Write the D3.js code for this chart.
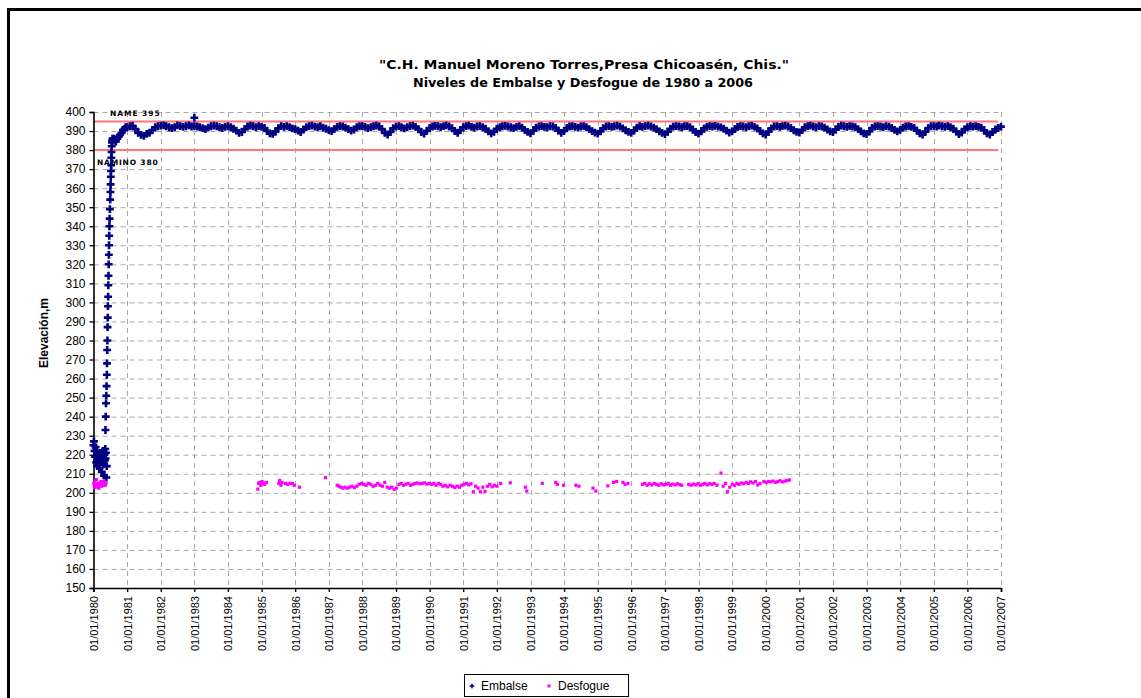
<!DOCTYPE html>
<html><head><meta charset="utf-8">
<script src="https://cdn.jsdelivr.net/npm/d3@7"></script>
<style>
html,body{margin:0;padding:0;background:#fff;}
svg{display:block;font-family:"Liberation Sans",Arial,sans-serif;}
</style></head>
<body><svg id="c" width="1141" height="698"></svg>
<script>
// ---------------- DATA ----------------
const titleLines = ['"C.H. Manuel Moreno Torres,Presa Chicoasén, Chis."', 'Niveles de Embalse y Desfogue de 1980 a 2006'];
const yLabel = "Elevación,m";
const yTicks = [150,160,170,180,190,200,210,220,230,240,250,260,270,280,290,300,310,320,330,340,350,360,370,380,390,400];
const xYears = [1980,1981,1982,1983,1984,1985,1986,1987,1988,1989,1990,1991,1992,1993,1994,1995,1996,1997,1998,1999,2000,2001,2002,2003,2004,2005,2006,2007];
const seriesNames = ["Embalse","Desfogue"];
const refLevels = [ {label:"NAME 395", value:395}, {label:"NAMINO 380", value:380} ];

// Embalse: filling period 1980 (date, elevation)
const embalseFilling = [
 ["1980-01-01",225],["1980-01-06",227],["1980-01-12",222],["1980-01-18",219],["1980-01-24",224],
 ["1980-01-30",216],["1980-02-05",222],["1980-02-11",214],["1980-02-17",218],["1980-02-23",220],
 ["1980-03-01",217],["1980-03-07",213],["1980-03-13",221],["1980-03-19",216],["1980-03-25",219],
 ["1980-03-31",211],["1980-04-06",218],["1980-04-12",222],["1980-04-18",215],["1980-04-24",209],
 ["1980-04-30",220],["1980-05-04",217],["1980-05-08",223],["1980-05-12",218],["1980-05-16",221],
 ["1980-05-20",208],["1980-05-24",214],
 ["1980-05-10",233],["1980-05-13",240],["1980-05-16",247],["1980-05-19",251],["1980-05-22",256],
 ["1980-05-25",262],["1980-05-27",268],["1980-05-29",275],["1980-05-31",280],["1980-06-02",287],
 ["1980-06-04",292],["1980-06-06",298],["1980-06-08",303],["1980-06-10",309],["1980-06-12",314],
 ["1980-06-14",320],["1980-06-16",325],["1980-06-18",330],["1980-06-20",335],["1980-06-22",340],
 ["1980-06-24",344],["1980-06-27",349],["1980-06-30",354],["1980-07-03",358],["1980-07-05",362],
 ["1980-07-07",366],["1980-07-09",369],["1980-07-11",372],["1980-07-13",376],["1980-07-15",379],
 ["1980-07-17",382],["1980-07-19",384],["1980-07-22",385],["1980-07-26",386],["1980-08-01",385.5],
 ["1980-08-10",386],["1980-08-20",385],["1980-09-01",384.5],["1980-09-15",386],["1980-10-01",387],
 ["1980-10-15",388],["1980-11-01",389],["1980-11-15",390.5],["1980-12-01",391],["1980-12-15",392],
 ["1983-01-01",397]
];
// Embalse monthly (1st of each month), Jan 1981 .. Jan 2007
const embalseMonthly = [
 392.0,392.5,392.8,391.0,389.0,388.0,387.5,388.5,389.0,390.5,392.0,392.5, // 1981
 392.8,393.0,392.5,392.0,391.5,392.0,393.0,392.6,392.2,392.5,393.0,392.4, // 1982
 392.6,392.4,392.0,391.5,391.0,391.8,392.5,392.8,392.5,392.0,391.6,392.2, // 1983
 392.5,392.0,391.2,390.2,389.0,389.5,391.0,392.4,392.8,392.5,392.0,392.6, // 1984
 392.2,391.6,390.0,388.8,388.5,389.6,391.5,392.6,392.2,392.6,392.0,391.4, // 1985
 391.0,390.2,389.5,390.8,392.0,392.6,392.8,392.3,392.0,392.5,391.8,391.2, // 1986
 390.5,390.0,391.0,392.2,392.6,392.4,391.8,391.0,390.2,390.8,392.0,392.5, // 1987
 392.6,392.2,391.5,392.0,392.5,392.8,392.4,391.0,389.0,388.2,389.5,391.5, // 1988
 392.3,392.6,392.0,391.4,392.0,392.6,392.8,392.2,391.0,389.5,388.6,390.0, // 1989
 391.6,392.4,392.7,392.5,392.0,392.6,393.0,392.4,391.5,390.0,389.0,390.5, // 1990
 392.0,392.6,392.8,392.2,391.8,392.4,392.6,392.0,391.2,389.8,388.8,389.6, // 1991
 391.2,392.0,392.5,392.7,392.4,392.0,391.5,392.2,392.6,391.8,390.5,389.6, // 1992
 388.8,390.2,391.8,392.4,392.6,392.2,392.0,392.5,392.4,391.6,390.2,389.0, // 1993
 390.0,391.6,392.4,392.6,392.2,391.8,392.4,392.6,392.0,391.0,390.0,389.2, // 1994
 388.6,389.8,391.5,392.4,392.6,392.2,392.5,392.8,392.3,391.4,390.4,389.6, // 1995
 389.0,390.2,391.8,392.5,392.2,392.6,392.8,392.4,391.8,391.0,389.8,389.0, // 1996
 388.4,389.6,391.2,392.3,392.6,392.4,392.0,392.5,392.6,392.0,390.8,389.4, // 1997
 388.6,389.8,391.4,392.2,392.6,392.4,392.7,392.3,391.9,391.2,390.2,389.2, // 1998
 389.8,391.0,392.2,392.6,392.4,392.0,392.5,392.8,392.2,391.4,390.0,388.8, // 1999
 388.2,389.6,391.4,392.4,392.6,392.2,392.6,392.8,392.4,391.6,390.4,389.6, // 2000
 389.2,390.6,392.0,392.6,392.8,392.4,392.0,392.6,392.4,391.8,390.8,389.8, // 2001
 389.4,390.8,392.2,392.8,392.5,392.2,392.6,392.4,392.0,391.0,389.8,388.8, // 2002
 388.4,389.8,391.6,392.4,392.6,392.4,392.0,392.6,392.3,391.6,390.6,389.8, // 2003
 390.6,391.8,392.4,392.6,392.2,391.6,390.2,388.8,388.2,389.6,391.6,392.5, // 2004
 392.6,392.4,392.8,392.5,392.2,392.6,392.0,391.2,389.8,388.4,389.2,391.0, // 2005
 392.0,392.5,392.3,392.6,392.2,391.8,390.4,388.8,388.2,389.4,390.8,391.6, // 2006
 392.3 // Jan 2007
];
// Desfogue (tailwater) observations (date, elevation)
const desfogue = [
 ["1980-01-03",205],["1980-01-10",203],["1980-01-17",206],["1980-01-24",204],["1980-01-31",207],
 ["1980-02-07",203],["1980-02-14",205],["1980-02-21",204],["1980-02-28",202.5],["1980-03-06",205],
 ["1980-03-13",204],["1980-03-20",206],["1980-03-27",203.5],["1980-04-03",205],["1980-04-10",204],
 ["1980-04-17",206],["1980-04-24",204.5],["1980-05-01",205.5],["1980-05-08",204],["1980-05-15",205],
 ["1984-11-20",202],["1984-11-28",205],["1984-12-10",205.5],["1984-12-22",204],["1985-01-05",206],
 ["1985-01-18",205],["1985-02-02",204.5],["1985-02-20",205.5],
 ["1985-07-05",205],["1985-07-15",206.5],["1985-07-28",204],["1985-08-10",205.5],
 ["1985-09-15",205],["1985-10-10",204.5],["1985-11-05",205],["1985-12-01",205],["1985-12-20",204],["1986-02-15",203],
 ["1986-11-25",208],
 ["1987-04-01",204],["1987-04-20",203.5],["1987-05-10",203],["1987-06-01",202.5],["1987-06-25",203],
 ["1987-07-20",202.5],["1987-08-15",203],["1987-09-10",203.5],["1987-10-05",202.8],["1987-11-01",203.5],
 ["1987-11-25",204.5],["1987-12-20",205],["1988-01-15",204.5],["1988-02-10",204],["1988-03-05",205],
 ["1988-04-01",204.5],["1988-04-25",203.5],["1988-05-20",204],["1988-06-15",205],["1988-07-10",204],
 ["1988-08-05",203.5],["1988-08-30",205.5],["1988-09-25",203],["1988-10-20",202.5],["1988-11-15",203],
 ["1988-12-10",201.8],["1989-01-05",202.5],["1989-02-01",204.5],["1989-02-25",205],["1989-03-20",204],
 ["1989-04-15",204.5],["1989-05-10",205],["1989-06-05",204],["1989-07-01",204.5],["1989-07-25",205],
 ["1989-08-20",205.2],["1989-09-15",204.8],["1989-10-10",205],["1989-11-05",205.3],["1989-12-01",204.6],
 ["1989-12-25",205],["1990-01-20",204.5],["1990-02-15",205],["1990-03-10",204],["1990-04-05",205],
 ["1990-05-01",204.5],["1990-05-25",203.5],["1990-06-20",204],["1990-07-15",203.2],["1990-08-10",204],
 ["1990-09-05",203.5],["1990-10-01",202.8],["1990-10-25",203.6],["1990-11-20",203],["1990-12-15",204],
 ["1991-01-10",204.5],["1991-02-05",205],["1991-03-01",204.2],["1991-03-25",204.8],["1991-04-20",200.6],
 ["1991-05-15",203.5],["1991-06-10",202.5],["1991-07-05",200.6],["1991-08-01",203],["1991-08-25",200.8],
 ["1991-09-20",203.5],["1991-10-15",204.5],["1991-11-10",203.2],["1991-12-05",204],["1992-01-01",203.5],
 ["1992-02-10",205],["1992-05-25",205.3],["1992-11-05",203],["1992-11-20",201],["1993-05-08",205],
 ["1993-10-01",205.5],["1993-10-20",204.5],["1993-12-25",204],["1994-05-08",204],["1994-06-10",203.5],
 ["1994-11-10",202.5],["1994-12-10",201],["1995-04-20",203.7],["1995-06-20",205.5],["1995-07-25",206],
 ["1995-10-01",205.5],["1995-10-25",204.5],["1995-11-25",205],
 ["1996-05-01",204.5],["1996-05-25",205],["1996-06-20",204],["1996-07-15",204.8],["1996-08-10",204.2],
 ["1996-09-05",205],["1996-10-01",204.5],["1996-10-25",204],["1996-11-20",204.8],["1996-12-15",204.2],
 ["1997-01-10",204.5],["1997-02-05",205],["1997-03-01",204],["1997-03-25",204.6],["1997-04-20",204.2],
 ["1997-05-15",204.8],["1997-06-10",204.3],["1997-07-01",204],
 ["1997-09-15",204.5],["1997-10-10",204],["1997-11-05",204.6],["1997-12-01",204.2],["1997-12-25",204.8],
 ["1998-01-20",204],["1998-02-15",204.5],["1998-03-10",205],["1998-04-05",204.2],["1998-05-01",204.8],
 ["1998-05-25",204.5],["1998-06-20",205],["1998-07-20",204],["1998-09-01",210.4],
 ["1998-09-25",203.5],["1998-10-20",205],["1998-11-10",200.6],["1998-12-05",203],["1999-01-01",204.5],
 ["1999-01-25",204],["1999-02-20",205],["1999-03-15",204.5],["1999-04-10",205.2],["1999-05-05",204.8],
 ["1999-06-01",205.5],["1999-06-25",205],["1999-07-20",205.8],["1999-08-15",205.2],["1999-09-10",206],
 ["1999-10-05",204.2],["1999-10-30",205],
 ["1999-12-10",206],["2000-01-05",205.5],["2000-02-01",206],["2000-02-25",205.8],["2000-03-20",206.2],
 ["2000-04-15",205.5],["2000-05-10",206],["2000-06-05",206.4],["2000-07-01",205.8],["2000-07-25",206.2],
 ["2000-08-20",206.5],["2000-09-15",206.8]
];

// ---------------- CHART ----------------
const svg = d3.select("#c");
const W = 1141, H = 698;
const parse = d3.timeParse("%Y-%m-%d");
const x = d3.scaleTime().domain([new Date(1980,0,1), new Date(2007,0,1)]).range([93.5, 1001]);
const y = d3.scaleLinear().domain([150,400]).range([588,112]);

// frame
svg.append("rect").attr("width",W).attr("height",H).attr("fill","#fff");
svg.append("path").attr("d",`M8.5,${H} L8.5,9.5 L${W},9.5`).attr("fill","none").attr("stroke","#000").attr("stroke-width",3);

// titles
svg.append("text").attr("x",584).attr("y",69).attr("text-anchor","middle")
  .attr("font-family","DejaVu Sans").attr("font-size",12).attr("font-weight","bold")
  .attr("textLength",410).attr("lengthAdjust","spacingAndGlyphs").text(titleLines[0]);
svg.append("text").attr("x",583).attr("y",87).attr("text-anchor","middle")
  .attr("font-family","DejaVu Sans").attr("font-size",12).attr("font-weight","bold")
  .attr("textLength",340).attr("lengthAdjust","spacingAndGlyphs").text(titleLines[1]);

// y label
svg.append("text").attr("transform","translate(48,333) rotate(-90)").attr("text-anchor","middle")
  .attr("font-size",12).attr("font-weight","bold").text(yLabel);

// grid
const g = svg.append("g");
g.selectAll("line.h").data(yTicks.filter(v=>v>150)).join("line")
  .attr("x1",x.range()[0]).attr("x2",x.range()[1])
  .attr("y1",d=>y(d)+0.5).attr("y2",d=>y(d)+0.5)
  .attr("stroke","#a8a8a8").attr("stroke-dasharray","5,4").attr("stroke-width",1);
const yearDates = xYears.map(yr=>new Date(yr,0,1));
g.selectAll("line.v").data(yearDates.slice(1)).join("line")
  .attr("x1",d=>Math.round(x(d))+0.5).attr("x2",d=>Math.round(x(d))+0.5)
  .attr("y1",y(400)).attr("y2",y(150))
  .attr("stroke","#a8a8a8").attr("stroke-dasharray","5,4").attr("stroke-width",1);

// reference lines
svg.append("g").selectAll("line").data(refLevels).join("line")
  .attr("x1",x.range()[0]).attr("x2",998)
  .attr("y1",d=>y(d.value)).attr("y2",d=>y(d.value))
  .attr("stroke","#ff7878").attr("stroke-width",2);
svg.append("text").attr("x",110).attr("y",116).attr("font-family","DejaVu Sans").attr("font-size",7.5)
  .attr("font-weight","900").attr("letter-spacing",1.3).attr("textLength",51).text(refLevels[0].label);
svg.append("text").attr("x",97).attr("y",165).attr("font-family","DejaVu Sans").attr("font-size",7.5)
  .attr("font-weight","900").attr("letter-spacing",1.3).attr("textLength",62).text(refLevels[1].label);

// axes
const yAxis = d3.axisLeft(y).tickValues(yTicks).tickSize(4).tickPadding(4);
const ya = svg.append("g").attr("transform",`translate(${x.range()[0]},0)`).call(yAxis);
ya.select(".domain").attr("stroke","#000").attr("stroke-width",1.6);
ya.selectAll("line").attr("stroke","#000").attr("stroke-width",1.3);
ya.selectAll("text").attr("font-size",12).attr("font-family","Liberation Sans, Arial").attr("fill","#000");

const xAxis = d3.axisBottom(x).tickValues(yearDates).tickSize(4).tickFormat(d3.timeFormat("%d/%m/%Y"));
const xa = svg.append("g").attr("transform",`translate(0,${y(150)})`).call(xAxis);
xa.select(".domain").attr("stroke","#000").attr("stroke-width",1.6);
xa.selectAll("line").attr("stroke","#000").attr("stroke-width",1.3);
xa.selectAll("text").attr("font-size",11).attr("font-family","Liberation Sans, Arial").attr("fill","#000")
  .attr("text-anchor","end").attr("transform","rotate(-90)").attr("x",-8).attr("y",0).attr("dy","0.35em");

// series data
const emb = embalseFilling.map(d=>({date:parse(d[0]), v:d[1]}));
embalseMonthly.forEach((v,i)=>emb.push({date:new Date(1981+Math.floor(i/12), i%12, 1), v}));
const des = desfogue.map(d=>({date:parse(d[0]), v:d[1]}));

const cross = d3.symbol().type(d3.symbolCross).size(34);
svg.append("g").selectAll("path").data(emb).join("path")
  .attr("d",cross).attr("transform",d=>`translate(${x(d.date)},${y(d.v)})`).attr("fill","#000080");
svg.append("g").selectAll("rect").data(des).join("rect")
  .attr("x",d=>x(d.date)-1.5).attr("y",d=>y(d.v)-1.5).attr("width",3.2).attr("height",3.2).attr("fill","#ff00ff");

// legend
const lg = svg.append("g");
lg.append("rect").attr("x",464.5).attr("y",674.5).attr("width",164).attr("height",22).attr("fill","#fff").attr("stroke","#000");
lg.append("path").attr("d",d3.symbol().type(d3.symbolCross).size(12)).attr("transform","translate(472,686)").attr("fill","#000080");
lg.append("text").attr("x",481).attr("y",690).attr("font-size",12).text(seriesNames[0]);
lg.append("rect").attr("x",547.5).attr("y",684.5).attr("width",3).attr("height",3).attr("fill","#ff00ff");
lg.append("text").attr("x",558).attr("y",690).attr("font-size",12).text(seriesNames[1]);
</script></body></html>
